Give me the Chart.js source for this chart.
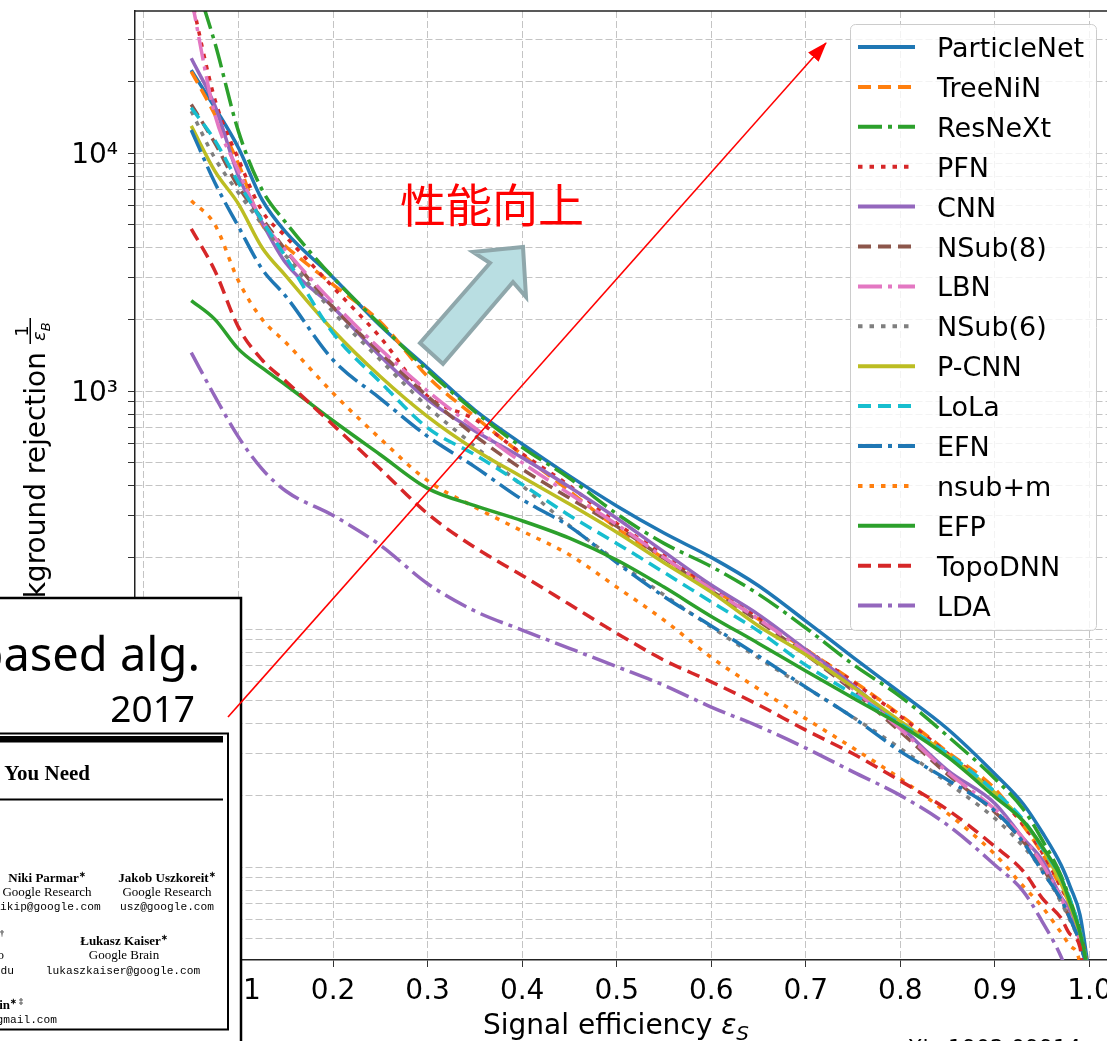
<!DOCTYPE html>
<html>
<head>
<meta charset="utf-8">
<script src="https://cdn.jsdelivr.net/npm/chart.js@4.4.1/dist/chart.umd.min.js"></script>
<style>
html, body { margin: 0; padding: 0; width: 1107px; height: 1041px; overflow: hidden; background: #fff; }
#wrap { position: absolute; left: 0; top: 0; width: 1140px; height: 1041px; }
#over { position: absolute; left: 0; top: 0; }
</style>
</head>
<body>
<div id="wrap"><canvas id="roc"></canvas></div>

<svg id="over" width="1107" height="1041" viewBox="0 0 1107 1041" xmlns="http://www.w3.org/2000/svg">
  <defs>
    <marker id="head" markerUnits="userSpaceOnUse" markerWidth="20" markerHeight="14" refX="19" refY="7" orient="auto">
      <path d="M0,0 L20,7 L0,14 z" fill="#ff0000"/>
    </marker>
  </defs>
  <polygon points="420,343 490,263 473,252 523,247 526,297 513,282 443,364" fill="#b9dee2" stroke="#8fa7ab" stroke-width="4"/>
  <text x="400" y="222" font-family="'Noto Sans CJK JP'" font-size="46" fill="#ff0000">性能向上</text>

  <rect x="-3" y="598" width="244" height="460" fill="#fff" stroke="#000" stroke-width="2.5"/>
  <text x="200" y="671" text-anchor="end" font-family="'Noto Sans'" font-size="47">Transformer-based alg.</text>
  <text x="195" y="722" text-anchor="end" font-family="'Noto Sans'" font-size="37">2017</text>

  <rect x="-3" y="733.5" width="231" height="296" fill="#fff" stroke="#000" stroke-width="2"/>
  <rect x="0" y="736" width="223" height="6.5" fill="#000"/>
  <text x="90" y="780" text-anchor="end" font-family="'Liberation Serif'" font-weight="bold" font-size="21">Attention Is All You Need</text>
  <rect x="0" y="798.5" width="223" height="2" fill="#000"/>
  <g font-family="'Liberation Serif'" font-size="13" text-anchor="middle">
    <text x="47" y="882" font-weight="bold">Niki Parmar<tspan font-size="8" dy="-5">∗</tspan></text>
    <text x="167" y="882" font-weight="bold">Jakob Uszkoreit<tspan font-size="8" dy="-5">∗</tspan></text>
    <text x="47" y="896">Google Research</text>
    <text x="167" y="896">Google Research</text>
    <text x="124" y="945" font-weight="bold">Łukasz Kaiser<tspan font-size="8" dy="-5">∗</tspan></text>
    <text x="124" y="959">Google Brain</text>
  </g>
  <g font-family="'Liberation Serif'" font-size="13" text-anchor="end">
    <text x="4" y="941" font-weight="bold">Aidan N. Gomez<tspan font-size="8" dy="-5">∗ †</tspan></text>
    <text x="4" y="959">University of Toronto</text>
    <text x="23" y="1009" font-weight="bold">Illia Polosukhin<tspan font-size="8" dy="-5">∗ ‡</tspan></text>
  </g>
  <g font-family="'Liberation Mono'" font-size="11.2">
    <text x="47" y="910" text-anchor="middle">nikip@google.com</text>
    <text x="167" y="910" text-anchor="middle">usz@google.com</text>
    <text x="123" y="974" text-anchor="middle">lukaszkaiser@google.com</text>
    <text x="14" y="974" text-anchor="end">aidan@cs.toronto.edu</text>
    <text x="57" y="1023" text-anchor="end">illia.polosukhin@gmail.com</text>
  </g>

  <line x1="228" y1="717" x2="826" y2="43" stroke="#ff0000" stroke-width="1.6" marker-end="url(#head)"/>
  <text x="885" y="1055" font-family="'DejaVu Sans'" font-size="22">arXiv:1902.09914</text>
</svg>

<script>
// signal efficiency grid shared by all curves
var effS = [0.05, 0.075, 0.1, 0.125, 0.15, 0.2, 0.25, 0.3, 0.35, 0.4, 0.45, 0.5, 0.55, 0.6, 0.65, 0.7, 0.75, 0.8, 0.85, 0.9, 0.93, 0.95, 0.97, 0.98, 0.99, 1.0];

// background rejection 1/eps_B
var particleNet = [22300, 15500, 10500, 6350, 4650, 3000, 1880, 1250, 832, 599, 440, 329, 253, 200, 152, 108, 76, 54, 38, 24.6, 18.4, 14.0, 10.2, 8.2, 6.3, 3.5];
var treeNiN = [22000, 14500, 9000, 5000, 4050, 2800, 1950, 1150, 780, 540, 380, 266, 198, 149, 110, 82, 60.5, 43.5, 30.4, 21.3, 14.9, 11.4, 8.2, 6.9, 5.4, 3.5];
var resNeXt = [60000, 29000, 12300, 7000, 5100, 3000, 1900, 1220, 820, 580, 430, 305, 229, 183, 140, 101, 71, 52, 35.5, 23.5, 17.5, 13.0, 9.2, 7.2, 5.4, 3.5];
var pfn = [45000, 16800, 9400, 5700, 4450, 2730, 1680, 950, 760, 545, 400, 278, 205, 150, 112, 82, 60, 43, 30, 20.5, 15, 11.5, 8.2, 6.8, 5.3, 3.5];
var cnn = [25000, 15800, 8000, 5100, 3450, 2250, 1400, 920, 680, 525, 395, 292, 211, 153, 115, 82, 58, 39, 25.5, 18.5, 13.2, 10.7, 7.5, 6.5, 5.0, 3.5];
var nsub8 = [16000, 11000, 7200, 5300, 3900, 2250, 1450, 950, 650, 470, 355, 270, 198, 145, 108, 78, 55, 37, 24.5, 17, 12.8, 10, 7.2, 6.0, 4.8, 3.4];
var lbn = [45000, 14500, 8400, 5200, 3900, 2350, 1500, 1000, 700, 500, 370, 275, 200, 147, 110, 80, 56, 38, 25, 17.5, 13.2, 10.3, 7.4, 6.1, 4.9, 3.4];
var nsub6 = [15000, 9500, 6800, 5000, 3700, 2150, 1350, 860, 586, 400, 272, 193, 139, 102, 75.5, 56.8, 42.6, 31.5, 22.6, 16, 12.2, 9.7, 7.1, 5.9, 4.8, 3.4];
var pcnn = [13000, 8400, 6100, 4000, 3050, 1800, 1150, 780, 567, 435, 335, 255, 190, 143, 103, 78, 57, 41, 29.5, 20.5, 15.5, 12, 8.5, 6.8, 5.2, 3.4];
var lola = [15500, 11300, 7500, 5200, 3650, 1750, 1090, 700, 540, 405, 300, 229, 173, 130, 98, 70.5, 53.3, 40, 30, 20.7, 15.8, 12.0, 9.0, 7.2, 5.4, 3.4];
var efn = [12500, 7500, 4900, 3250, 2500, 1350, 930, 645, 480, 350, 270, 190, 137, 103, 77, 57, 42.5, 30.6, 23.2, 17.2, 12.7, 9.6, 7.3, 6.0, 4.8, 3.4];
var nsubm = [6300, 5000, 2900, 2000, 1600, 980, 630, 420, 325, 258, 205, 150, 109, 76, 56, 42, 31.6, 23.5, 16.8, 11.3, 8.3, 6.8, 5.3, 4.65, 3.9, 1];
var efp = [2400, 2000, 1500, 1250, 1060, 750, 540, 390, 330, 285, 241, 195, 150, 113, 87, 66.6, 51.3, 39.5, 29, 19.7, 15.6, 12.2, 9.0, 7.0, 5.3, 3.4];
var topoDNN = [4800, 3200, 1850, 1350, 1100, 720, 470, 305, 220, 168, 127, 96, 74, 60, 48, 37.6, 29.9, 23, 17.4, 12.2, 9.6, 7.4, 6.1, 5.2, 4.6, 1];
var lda = [1450, 950, 640, 470, 380, 300, 225, 155, 119, 99, 83, 69.5, 58, 47, 39, 31.6, 25.1, 20, 15, 10.2, 7.9, 5.9, 4.2, 3.3, 2.5, 1];

var names = ['ParticleNet', 'TreeNiN', 'ResNeXt', 'PFN', 'CNN', 'NSub(8)', 'LBN', 'NSub(6)', 'P-CNN', 'LoLa', 'EFN', 'nsub+m', 'EFP', 'TopoDNN', 'LDA'];
var series = [particleNet, treeNiN, resNeXt, pfn, cnn, nsub8, lbn, nsub6, pcnn, lola, efn, nsubm, efp, topoDNN, lda];
var colors = ['#1f77b4', '#ff7f0e', '#2ca02c', '#d62728', '#9467bd', '#8c564b', '#e377c2', '#7f7f7f', '#bcbd22', '#17becf', '#1f77b4', '#ff7f0e', '#2ca02c', '#d62728', '#9467bd'];
var styles = ['solid', 'dashed', 'dashdot', 'dotted'];
var dashes = { solid: [], dashed: [13, 7], dashdot: [24, 6, 4, 6], dotted: [4.5, 7] };

// ticks
var xTicks = [0.0, 0.1, 0.2, 0.3, 0.4, 0.5, 0.6, 0.7, 0.8, 0.9, 1.0];
var yMajorTicks = [10, 100, 1000, 10000];
var yTickLabels = ['10¹', '10²', '10³', '10⁴'];

var datasets = series.map(function (vals, i) {
  return {
    label: names[i],
    data: effS.map(function (x, j) { return { x: x, y: vals[j] }; }),
    borderColor: colors[i],
    borderDash: dashes[styles[i % 4]],
    borderWidth: 3.5,
    pointRadius: 0,
    fill: false,
    cubicInterpolationMode: 'monotone',
    order: series.length - i
  };
});

Chart.defaults.font.family = '"DejaVu Sans"';
Chart.defaults.color = '#000';

var mplBits = {
  id: 'mplBits',
  afterDraw: function (chart) {
    var ctx = chart.ctx;
    var area = chart.chartArea;
    ctx.save();

    // top spine
    ctx.strokeStyle = '#222';
    ctx.lineWidth = 1.5;
    ctx.beginPath();
    ctx.moveTo(area.left, area.top);
    ctx.lineTo(area.right, area.top);
    ctx.stroke();

    // legend
    ctx.beginPath();
    ctx.roundRect(850.5, 24.5, 246, 606, 5);
    ctx.fillStyle = 'rgba(255,255,255,0.8)';
    ctx.fill();
    ctx.strokeStyle = '#cccccc';
    ctx.lineWidth = 1;
    ctx.stroke();
    ctx.font = '27px "DejaVu Sans"';
    ctx.textAlign = 'left';
    ctx.textBaseline = 'alphabetic';
    chart.data.datasets.forEach(function (ds, i) {
      var y = 47 + i * 39.9;
      ctx.setLineDash(ds.borderDash);
      ctx.strokeStyle = ds.borderColor;
      ctx.lineWidth = 4;
      ctx.beginPath();
      ctx.moveTo(858, y);
      ctx.lineTo(915, y);
      ctx.stroke();
      ctx.setLineDash([]);
      ctx.fillStyle = '#000';
      ctx.fillText(ds.label, 937, y + 10);
    });

    // x title
    ctx.fillStyle = '#000';
    ctx.font = '28px "DejaVu Sans"';
    ctx.fillText('Signal efficiency ', 483, 1034);
    var w1 = ctx.measureText('Signal efficiency ').width;
    ctx.font = 'italic 28px "DejaVu Sans"';
    ctx.fillText('ε', 483 + w1, 1034);
    var w2 = ctx.measureText('ε').width;
    ctx.font = 'italic 20px "DejaVu Sans"';
    ctx.fillText('S', 483 + w1 + w2, 1040);

    // y title, rotated
    ctx.translate(45, 352);
    ctx.rotate(-Math.PI / 2);
    ctx.font = '28px "DejaVu Sans"';
    ctx.textAlign = 'right';
    ctx.fillText('Background rejection', 0, 0);
    ctx.textAlign = 'center';
    ctx.font = '18px "DejaVu Sans"';
    ctx.fillText('1', 21, -17);
    ctx.fillRect(8, -15.5, 26, 1.5);
    ctx.textAlign = 'left';
    ctx.font = 'italic 18px "DejaVu Sans"';
    ctx.fillText('ε', 11, 0);
    var we = ctx.measureText('ε').width;
    ctx.font = 'italic 13px "DejaVu Sans"';
    ctx.fillText('B', 11 + we, 5);

    ctx.restore();
  }
};

new Chart(document.getElementById('roc'), {
  type: 'line',
  data: { datasets: datasets },
  options: {
    responsive: true,
    maintainAspectRatio: false,
    animation: false,
    layout: { padding: { top: 11, right: 8, left: 0, bottom: 0 } },
    plugins: { legend: { display: false }, tooltip: { enabled: false } },
    scales: {
      x: {
        type: 'linear',
        min: -0.0095,
        max: 1.045,
        afterFit: function (s) { s.height = 81; s.paddingLeft = 0; s.paddingRight = 0; },
        afterBuildTicks: function (s) {
          s.ticks = xTicks.map(function (v) { return { value: v }; });
        },
        ticks: {
          autoSkip: false,
          maxRotation: 0,
          padding: 8,
          color: '#000',
          font: { size: 28 },
          callback: function (v) { return v.toFixed(1); }
        },
        grid: { color: '#c4c4c4', lineWidth: 1, tickLength: 7, tickColor: '#333', tickBorderDash: [] },
        border: { color: '#222', width: 1.5, dash: [7, 3] }
      },
      y: {
        type: 'logarithmic',
        min: 4.067,
        max: 39520,
        afterFit: function (s) { s.width = 135; s.paddingTop = 0; s.paddingBottom = 0; },
        afterBuildTicks: function (s) {
          var t = [];
          for (var e = 0; e <= 4; e++) {
            for (var m = 1; m <= 9; m++) {
              var v = m * Math.pow(10, e);
              if (v >= s.min && v <= s.max) t.push({ value: v, major: yMajorTicks.indexOf(v) >= 0 });
            }
          }
          s.ticks = t;
        },
        ticks: {
          autoSkip: false,
          padding: 10,
          labelOffset: 3,
          color: '#000',
          font: { size: 28 },
          callback: function (v) {
            var k = yMajorTicks.indexOf(v);
            return k >= 0 ? yTickLabels[k] : '';
          }
        },
        grid: { color: '#c4c4c4', lineWidth: 1, tickLength: 7, tickColor: '#333', tickBorderDash: [] },
        border: { color: '#222', width: 1.5, dash: [7, 3] }
      }
    }
  },
  plugins: [mplBits]
});
</script>
</body>
</html>
